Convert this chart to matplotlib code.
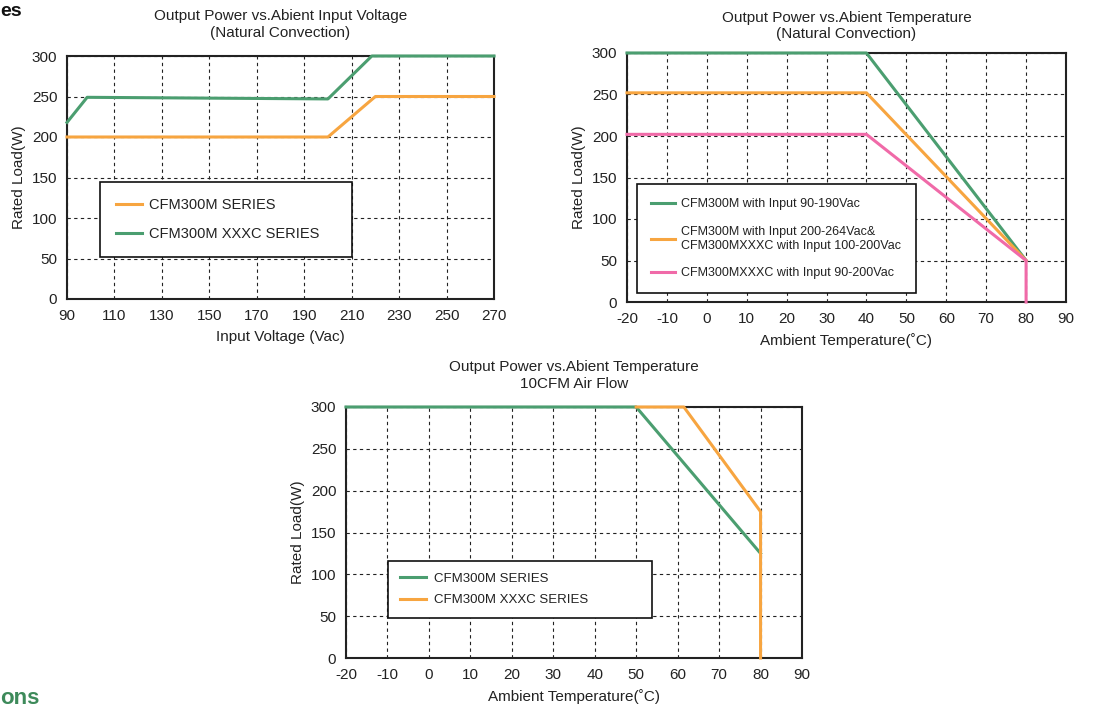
import matplotlib
matplotlib.use('Agg')
import matplotlib.pyplot as plt

plt.rcParams['font.family'] = ['Liberation Sans', 'DejaVu Sans']
plt.rcParams['axes.unicode_minus'] = False

# --- data ---
# chart 1: output power vs input voltage (natural convection)
vin_std = [90, 200, 220, 270]
p_vin_std = [200, 200, 250, 250]
vin_xxxc = [90, 98.5, 200, 218.5, 270]
p_vin_xxxc = [218, 249, 247, 300, 300]
vin_ticks = [90, 110, 130, 150, 170, 190, 210, 230, 250, 270]

# chart 2: output power vs ambient temperature (natural convection)
temp_nc = [-20, 40, 80]
p_nc_190 = [300, 300, 50]
p_nc_264 = [252, 252, 50]
temp_nc_pink = [-20, 40, 80, 80]
p_nc_pink = [202, 202, 50, 0]

# chart 3: output power vs ambient temperature (10CFM air flow)
temp_af_std = [-20, 50, 80]
p_af_std = [300, 300, 125]
temp_af_xxxc = [50, 61.5, 80, 80]
p_af_xxxc = [300, 300, 175, 0]
temp_ticks = [-20, -10, 0, 10, 20, 30, 40, 50, 60, 70, 80, 90]

load_ticks = [0, 50, 100, 150, 200, 250, 300]

GREEN = '#4b9e70'
ORANGE = '#f7a540'
PINK = '#f06aa8'

W, H = 1102, 708
fig = plt.figure(figsize=(W / 100, H / 100), dpi=100)


def make_axes(left, top, right, bottom):
    return fig.add_axes([left / W, 1 - bottom / H, (right - left) / W, (bottom - top) / H])


def style(ax, xticks, title, xlabel, tpad=14):
    ax.set_xlim(xticks[0], xticks[-1])
    ax.set_ylim(0, 300)
    ax.set_xticks(xticks)
    ax.set_yticks(load_ticks)
    ax.tick_params(length=0, labelsize=11, pad=7, labelcolor='#222222')
    ax.grid(True, color='#222222', linestyle=(0, (3, 3)), linewidth=0.8)
    for s in ax.spines.values():
        s.set_linewidth(1.5)
        s.set_color('#222222')
    ax.set_title(title, fontsize=11, pad=tpad, color='#222222', linespacing=1.2)
    ax.set_xlabel(xlabel, fontsize=11, labelpad=5, color='#222222')
    ax.set_ylabel('Rated Load(W)', fontsize=11, labelpad=4, color='#222222')


def box_legend(ax, anchor, size, pad, spacing, hlen, tpad):
    leg = ax.legend(loc='lower left', bbox_to_anchor=anchor, mode='expand', borderaxespad=0,
                    fontsize=size, frameon=True, fancybox=False, framealpha=1,
                    edgecolor='#111111', borderpad=pad, labelspacing=spacing,
                    handlelength=hlen, handletextpad=tpad)
    leg.get_frame().set_linewidth(1.2)
    for t in leg.get_texts():
        t.set_color('#222222')


# --- chart 1 ---
ax1 = make_axes(67, 56, 494, 299)
ax1.plot(vin_std, p_vin_std, color=ORANGE, lw=2.2, clip_on=False, zorder=3, label='CFM300M SERIES')
ax1.plot(vin_xxxc, p_vin_xxxc, color=GREEN, lw=2.2, clip_on=False, zorder=3, label='CFM300M XXXC SERIES')
style(ax1, vin_ticks, 'Output Power vs.Abient Input Voltage\n(Natural Convection)', 'Input Voltage (Vac)')
box_legend(ax1, (0.077, 0.173, 0.59, 0.308), 10.5, 1.1, 1.0, 1.8, 0.5)

# --- chart 2 ---
ax2 = make_axes(627, 53, 1066, 302)
ax2.plot(temp_nc, p_nc_190, color=GREEN, lw=2.2, clip_on=False, zorder=3,
         label='CFM300M with Input 90-190Vac')
ax2.plot(temp_nc, p_nc_264, color=ORANGE, lw=2.2, clip_on=False, zorder=3,
         label='CFM300M with Input 200-264Vac&\nCFM300MXXXC with Input 100-200Vac')
ax2.plot(temp_nc_pink, p_nc_pink, color=PINK, lw=2.2, clip_on=False, zorder=3,
         label='CFM300MXXXC with Input 90-200Vac')
style(ax2, temp_ticks, 'Output Power vs.Abient Temperature\n(Natural Convection)', 'Ambient Temperature(˚C)', tpad=11)
box_legend(ax2, (0.023, 0.036, 0.635, 0.442), 9, 1.1, 1.25, 1.9, 0.55)

# --- chart 3 ---
ax3 = make_axes(346, 407, 802, 658)
ax3.plot(temp_af_std, p_af_std, color=GREEN, lw=2.2, clip_on=False, zorder=3, label='CFM300M SERIES')
ax3.plot(temp_af_xxxc, p_af_xxxc, color=ORANGE, lw=2.2, clip_on=False, zorder=3, label='CFM300M XXXC SERIES')
style(ax3, temp_ticks, 'Output Power vs.Abient Temperature\n10CFM Air Flow', 'Ambient Temperature(˚C)')
box_legend(ax3, (0.092, 0.159, 0.579, 0.227), 9.5, 0.9, 0.7, 2.0, 0.6)

# cut-off section headings at the page edge
fig.text(0.0, 1 - 12 / H, 'es', fontsize=14, fontweight='bold', color='#111111', va='center', ha='left')
fig.text(0.0, 1 - 698 / H, 'ons', fontsize=16, fontweight='bold', color='#3d8a5a', va='center', ha='left')

fig.savefig('out.png', dpi=100)
